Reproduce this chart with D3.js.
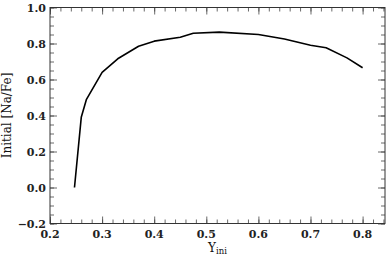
<!DOCTYPE html>
<html><head><meta charset="utf-8">
<script src="https://cdn.jsdelivr.net/npm/d3@7"></script>
<style>body{margin:0;background:#fff}svg{display:block}</style>
</head><body>
<script>
const yIni = [0.247, 0.26, 0.27, 0.30, 0.33, 0.37, 0.40, 0.45, 0.475, 0.525, 0.60, 0.65, 0.70, 0.73, 0.77, 0.80];
const naFe = [0.0, 0.39, 0.49, 0.64, 0.715, 0.785, 0.813, 0.835, 0.857, 0.863, 0.85, 0.825, 0.79, 0.776, 0.72, 0.665];
const xTicks = [0.2, 0.3, 0.4, 0.5, 0.6, 0.7, 0.8];
const yTicks = [-0.2, 0.0, 0.2, 0.4, 0.6, 0.8, 1.0];

const W = 391, H = 255;
const m = {l: 50, r: 6, t: 7.5, b: 31.5};
const svg = d3.select("body").append("svg").attr("width", W).attr("height", H);
const x = d3.scaleLinear().domain([0.2, 0.843]).range([m.l, W - m.r]);
const y = d3.scaleLinear().domain([-0.2, 1.0]).range([H - m.b, m.t]);
const font = "DejaVu Serif";
const fmt = d => (d < 0 ? "\u2212" : "") + Math.abs(d).toFixed(1);

const xMinor = d3.range(0.2, 0.8401, 0.02).map(v => +v.toFixed(2));
const yMinor = d3.range(-0.2, 1.0001, 0.05).map(v => +v.toFixed(2));

function ticks(axisFn, scale, vals, len, transform) {
  const a = axisFn(scale).tickValues(vals).tickSize(len).tickFormat("");
  const sel = svg.append("g").attr("transform", transform).call(a);
  sel.select(".domain").remove();
  sel.selectAll("line").attr("stroke", "#444").attr("stroke-width", 0.8);
  return sel;
}
const B = H - m.b, T = m.t, L = m.l, R = W - m.r;
ticks(d3.axisTop, x, xMinor, 4, `translate(0,${B})`);
ticks(d3.axisTop, x, xTicks, 7, `translate(0,${B})`);
ticks(d3.axisBottom, x, xMinor, 4, `translate(0,${T})`);
ticks(d3.axisBottom, x, xTicks, 7, `translate(0,${T})`);
ticks(d3.axisRight, y, yMinor, 4, `translate(${L},0)`);
ticks(d3.axisRight, y, yTicks, 7, `translate(${L},0)`);
ticks(d3.axisLeft, y, yMinor, 4, `translate(${R},0)`);
ticks(d3.axisLeft, y, yTicks, 7, `translate(${R},0)`);

svg.append("rect").attr("x", L).attr("y", T).attr("width", R - L).attr("height", B - T)
  .attr("fill", "none").attr("stroke", "#333").attr("stroke-width", 1);

svg.append("g").selectAll("text").data(xTicks).join("text")
  .attr("x", d => x(d)).attr("y", B + 14).attr("text-anchor", "middle")
  .attr("font-family", font).attr("font-weight", "bold").attr("font-size", 11).attr("fill", "#222")
  .text(fmt);
svg.append("g").selectAll("text").data(yTicks).join("text")
  .attr("x", L - 4).attr("y", d => y(d) + 4).attr("text-anchor", "end")
  .attr("font-family", font).attr("font-weight", "bold").attr("font-size", 11).attr("fill", "#222")
  .text(fmt);

const xt = svg.append("text").attr("x", (L + R) / 2).attr("y", 251.5).attr("text-anchor", "middle")
  .attr("font-family", font).attr("font-size", 12).attr("fill", "#111");
xt.append("tspan").text("Y");
xt.append("tspan").attr("font-size", 8.5).attr("dy", 2).text("ini");

svg.append("text").attr("transform", `translate(11,${(T + B) / 2}) rotate(-90)`)
  .attr("text-anchor", "middle").attr("font-family", font).attr("font-size", 12).attr("fill", "#111")
  .text("Initial [Na/Fe]");

const pts = yIni.map((v, i) => [v, naFe[i]]);
svg.append("path").datum(pts)
  .attr("d", d3.line().x(d => x(d[0])).y(d => y(d[1])))
  .attr("fill", "none").attr("stroke", "#000").attr("stroke-width", 1.6).attr("stroke-linejoin", "round");
</script>
</body></html>
